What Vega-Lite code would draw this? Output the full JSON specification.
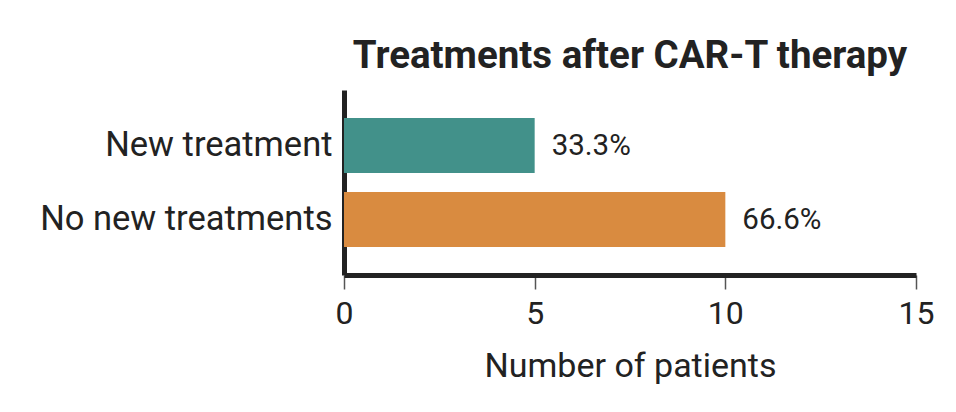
{
  "$schema": "https://vega.github.io/schema/vega-lite/v6.json",
  "width": 572,
  "height": 185,
  "autosize": {"type": "none"},
  "padding": {"left": 344, "top": 90, "right": 40, "bottom": 137},
  "background": "white",
  "title": {
    "text": "Treatments after CAR-T therapy",
    "font": "Roboto",
    "fontSize": 38.5,
    "fontWeight": "bold",
    "color": "#222222",
    "anchor": "middle",
    "offset": 14
  },
  "data": {
    "values": [
      {"group": "New treatment", "patients": 5, "label": "33.3%"},
      {"group": "No new treatments", "patients": 10, "label": "66.6%"}
    ]
  },
  "encoding": {
    "y": {
      "field": "group",
      "type": "nominal",
      "sort": ["New treatment", "No new treatments"],
      "scale": {"paddingInner": 0.26, "paddingOuter": 0.38},
      "axis": {
        "title": null,
        "domainColor": "#222222",
        "domainWidth": 5,
        "ticks": false,
        "labelFont": "Roboto",
        "labelFontSize": 34.5,
        "labelColor": "#222222",
        "labelPadding": 12,
        "labelLimit": 400
      }
    },
    "x": {
      "field": "patients",
      "type": "quantitative",
      "scale": {"domain": [0, 15], "nice": false},
      "axis": {
        "title": "Number of patients",
        "values": [0, 5, 10, 15],
        "grid": false,
        "domainColor": "#222222",
        "domainWidth": 5,
        "tickColor": "#555555",
        "tickWidth": 1.5,
        "tickSize": 14,
        "labelFont": "Roboto",
        "labelFontSize": 32,
        "labelColor": "#222222",
        "labelPadding": 9,
        "labelFlush": false,
        "titleFont": "Roboto",
        "titleFontSize": 34,
        "titleFontWeight": "normal",
        "titleColor": "#222222",
        "titlePadding": 20
      }
    }
  },
  "layer": [
    {
      "mark": {"type": "bar"},
      "encoding": {
        "color": {
          "field": "group",
          "type": "nominal",
          "scale": {"domain": ["New treatment", "No new treatments"], "range": ["#42918A", "#D98B40"]},
          "legend": null
        }
      }
    },
    {
      "mark": {"type": "text", "align": "left", "baseline": "middle", "dx": 17, "font": "Roboto", "fontSize": 29.5, "color": "#222222"},
      "encoding": {"text": {"field": "label"}}
    }
  ],
  "config": {"view": {"stroke": null}}
}
